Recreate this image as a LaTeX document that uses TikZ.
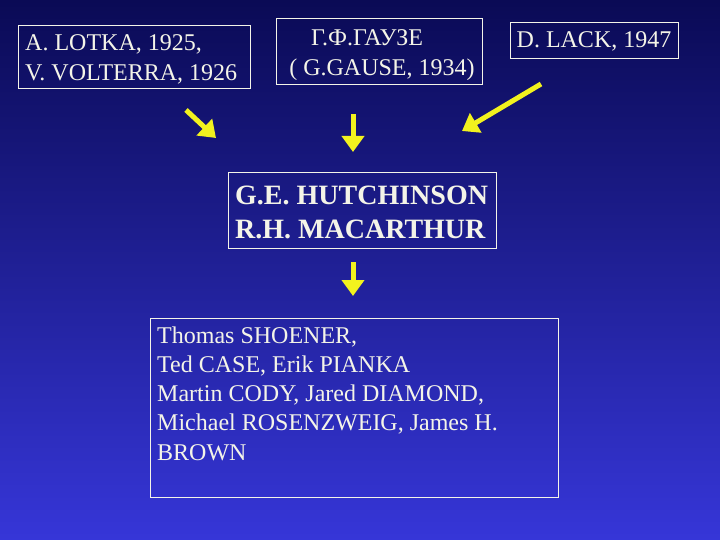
\documentclass[tikz,border=0pt]{standalone}
\usepackage{fontspec}
\setmainfont{Liberation Serif}
\usetikzlibrary{arrows.meta}
\definecolor{topblue}{HTML}{0A0A55}
\definecolor{botblue}{HTML}{3636D8}
\definecolor{arrowyel}{HTML}{F2F21E}
\definecolor{txt}{HTML}{F4F4E8}
\tikzset{
  box/.style={draw=txt, line width=0.8pt, inner sep=0pt},
  lbl/.style={text=txt, anchor=west, inner sep=0pt},
  ctr/.style={text=txt, inner sep=0pt},
  fn/.style={font=\fontsize{24}{24}\selectfont},
  yarr/.style={draw=arrowyel, line width=5pt, -{Triangle[length=16pt,width=22pt]}}
}
\begin{document}
\begin{tikzpicture}[x=1pt,y=-1pt]
\shade[top color=topblue,bottom color=botblue] (0,0) rectangle (720,540);
\useasboundingbox (0,0) rectangle (720,540);
% boxes
\draw[box] (18,25) rectangle (250,88);
\node[lbl,fn] (a1) at (25,44) {A. LOTKA, 1925,};
\node[lbl,fn] (a2) at (25,74) {V. VOLTERRA, 1926};
\draw[box] (276,18) rectangle (482,84);
\node[ctr,fn] (g1) at (367,38) {Г.Ф.ГАУЗЕ};
\node[ctr,fn] (g2) at (382,70) {( G.GAUSE, 1934)};
\draw[box] (510,22) rectangle (678,58);
\node[ctr,fn] (d) at (594,41) {D. LACK, 1947};
\draw[box] (228,172) rectangle (496,248);
\node[lbl,font=\bfseries\fontsize{28}{28}\selectfont] (h1) at (235,195) {G.E. HUTCHINSON};
\node[lbl,font=\bfseries\fontsize{28}{28}\selectfont] (h2) at (235,229) {R.H. MACARTHUR};
\draw[box] (150,318) rectangle (558,497);
\node[lbl,fn] (s1) at (157,337) {Thomas SHOENER,};
\node[lbl,fn] (s2) at (157,366) {Ted CASE, Erik PIANKA};
\node[lbl,fn] (s3) at (157,395) {Martin CODY, Jared DIAMOND,};
\node[lbl,fn] (s4) at (157,424) {Michael ROSENZWEIG, James H.};
\node[lbl,fn] (s5) at (157,453) {BROWN};
% arrows
\coordinate (p1) at (186,110); \coordinate (q1) at (216,138);
\coordinate (p2) at (353,114); \coordinate (q2) at (353,152);
\coordinate (p3) at (541,84);  \coordinate (q3) at (462,131);
\coordinate (p4) at (353,262); \coordinate (q4) at (353,296);
\draw[yarr] (p1) -- (q1);
\draw[yarr] (p2) -- (q2);
\draw[yarr] (p3) -- (q3);
\draw[yarr] (p4) -- (q4);
\end{tikzpicture}
\end{document}
